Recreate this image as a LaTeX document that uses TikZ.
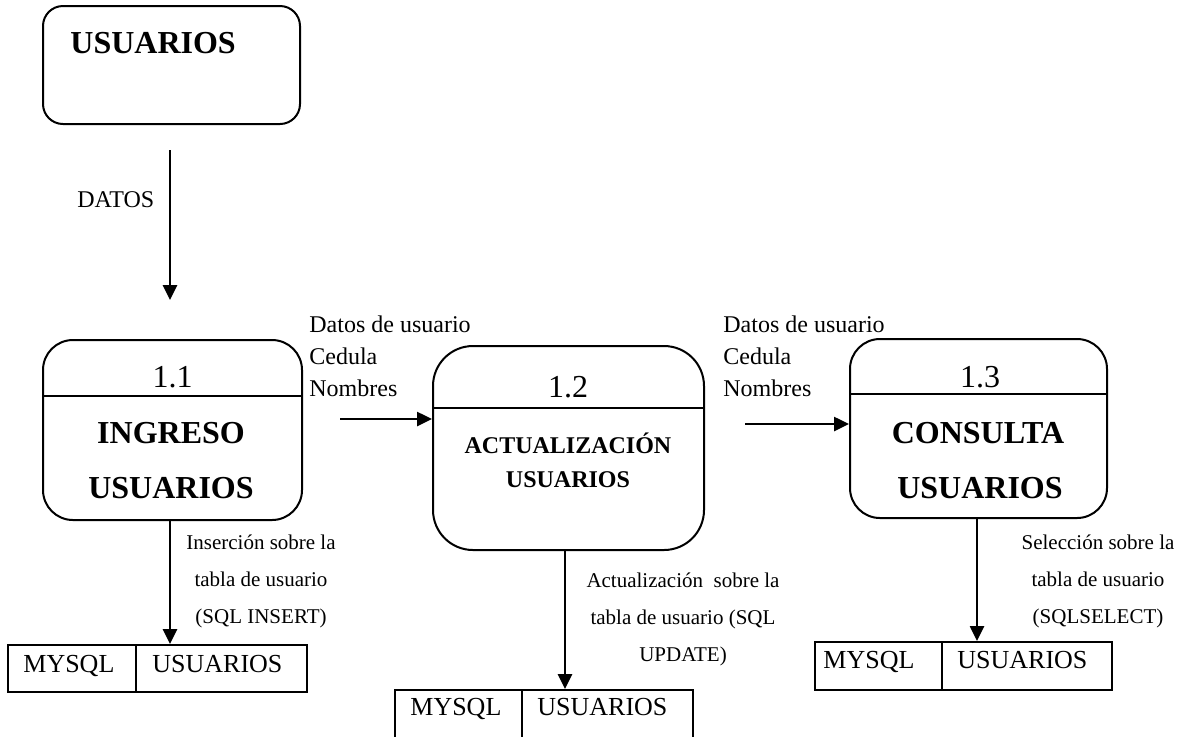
\documentclass[tikz,border=0pt]{standalone}
\usepackage{fontspec}
\setmainfont{Liberation Serif}
\usetikzlibrary{arrows.meta}
\begin{document}
\begin{tikzpicture}[x=0.5pt,y=-0.5pt,
  entity/.style={draw, line width=1pt, rounded corners=10pt, inner sep=0pt},
  proc/.style={draw, line width=1pt, inner sep=0pt},
  store/.style={draw, line width=1pt, inner sep=0pt},
  sep/.style={line width=1pt},
  flow/.style={line width=1.3pt, -{Triangle[length=7.5pt,width=7pt]}},
  num/.style={font=\fontsize{16}{19}\selectfont, anchor=base, inner sep=0pt},
  title/.style={font=\fontsize{16}{19}\selectfont\bfseries, anchor=base, inner sep=0pt},
  subtitle/.style={font=\fontsize{12}{14}\selectfont\bfseries, anchor=base, inner sep=0pt},
  dlabel/.style={font=\fontsize{12}{16}\selectfont, align=left, anchor=west, inner sep=0pt},
  qlabel/.style={font=\fontsize{10.5}{18.5}\selectfont, align=center, inner sep=0pt},
  stext/.style={font=\fontsize{13}{15}\selectfont, anchor=base west, inner sep=0pt}]
\useasboundingbox (0,0) rectangle (1193,736);

% external entity
\node[entity, minimum width=128.5pt, minimum height=59pt] (usr) at (171.5,65) {};
\node[title, anchor=base west] (usrt) at (70,53) {USUARIOS};

% incoming data
\coordinate (d0) at (170,150);
\coordinate (d1) at (170,300);
\draw[flow] (d0) -- (d1);
\node[font=\fontsize{12}{14}\selectfont, anchor=base west, inner sep=0pt] (datos) at (77,207) {DATOS};

% process 1.1
\node[proc, rounded corners=15pt, minimum width=129.5pt, minimum height=90pt] (p11) at (172.5,430) {};
\draw[sep] ([yshift=-28.5pt]p11.north west) -- ([yshift=-28.5pt]p11.north east);
\node[num] (n11) at (172.5,387) {1.1};
\node[title] (t11a) at (171,443) {INGRESO};
\node[title] (t11b) at (171,498) {USUARIOS};

% process 1.2
\node[proc, rounded corners=20pt, minimum width=135.5pt, minimum height=102pt] (p12) at (568.5,448) {};
\draw[sep] ([yshift=-31.5pt]p12.north west) -- ([yshift=-31.5pt]p12.north east);
\node[num] (n12) at (568,397) {1.2};
\node[subtitle] (t12a) at (568,453) {ACTUALIZACIÓN};
\node[subtitle] (t12b) at (568,487) {USUARIOS};

% process 1.3
\node[proc, rounded corners=15pt, minimum width=128.5pt, minimum height=89.5pt] (p13) at (978.5,428.5) {};
\draw[sep] ([yshift=-28pt]p13.north west) -- ([yshift=-28pt]p13.north east);
\node[num] (n13) at (980,387) {1.3};
\node[title] (t13a) at (978,443) {CONSULTA};
\node[title] (t13b) at (980,498) {USUARIOS};

% flows between processes
\node[dlabel] (l12) at (309,356) {Datos de usuario\\Cedula\\Nombres};
\coordinate (f1) at (340,419);
\draw[flow] (f1) -- (f1 -| p12.west);
\node[dlabel] (l23) at (723,356) {Datos de usuario\\Cedula\\Nombres};
\coordinate (f2) at (745,424);
\draw[flow] (f2) -- (f2 -| p13.west);

% data stores
\node[store, minimum width=149.5pt, minimum height=23.5pt] (s1) at (157.5,668.5) {};
\draw[sep] ([xshift=64.5pt]s1.north west) -- ([xshift=64.5pt]s1.south west);
\node[stext] (s1a) at (23,672) {MYSQL};
\node[stext] (s1b) at (152,672) {USUARIOS};

\node[store, minimum width=149pt, minimum height=25pt] (s2) at (544,715) {};
\draw[sep] ([xshift=64pt]s2.north west) -- ([xshift=64pt]s2.south west);
\node[stext] (s2a) at (410,715) {MYSQL};
\node[stext] (s2b) at (537,715) {USUARIOS};

\node[store, minimum width=148.5pt, minimum height=24pt] (s3) at (963.5,666) {};
\draw[sep] ([xshift=64pt]s3.north west) -- ([xshift=64pt]s3.south west);
\node[stext] (s3a) at (823,668) {MYSQL};
\node[stext] (s3b) at (957,668) {USUARIOS};

% flows to the stores
\draw[flow] ([xshift=-1.25pt]p11.south) -- ([xshift=-1.25pt]p11.south |- s1.north);
\node[qlabel] (q1) at (261,581) {Inserción sobre la\\tabla de usuario\\(SQL INSERT)};
\draw[flow] ([xshift=-1.75pt]p12.south) -- ([xshift=-1.75pt]p12.south |- s2.north);
\node[qlabel] (q2) at (683,619) {Actualización\ \ sobre la\\tabla de usuario (SQL\\UPDATE)};
\draw[flow] ([xshift=-0.75pt]p13.south) -- ([xshift=-0.75pt]p13.south |- s3.north);
\node[qlabel] (q3) at (1098,581) {Selección sobre la\\tabla de usuario\\(SQLSELECT)};
\end{tikzpicture}
\end{document}
